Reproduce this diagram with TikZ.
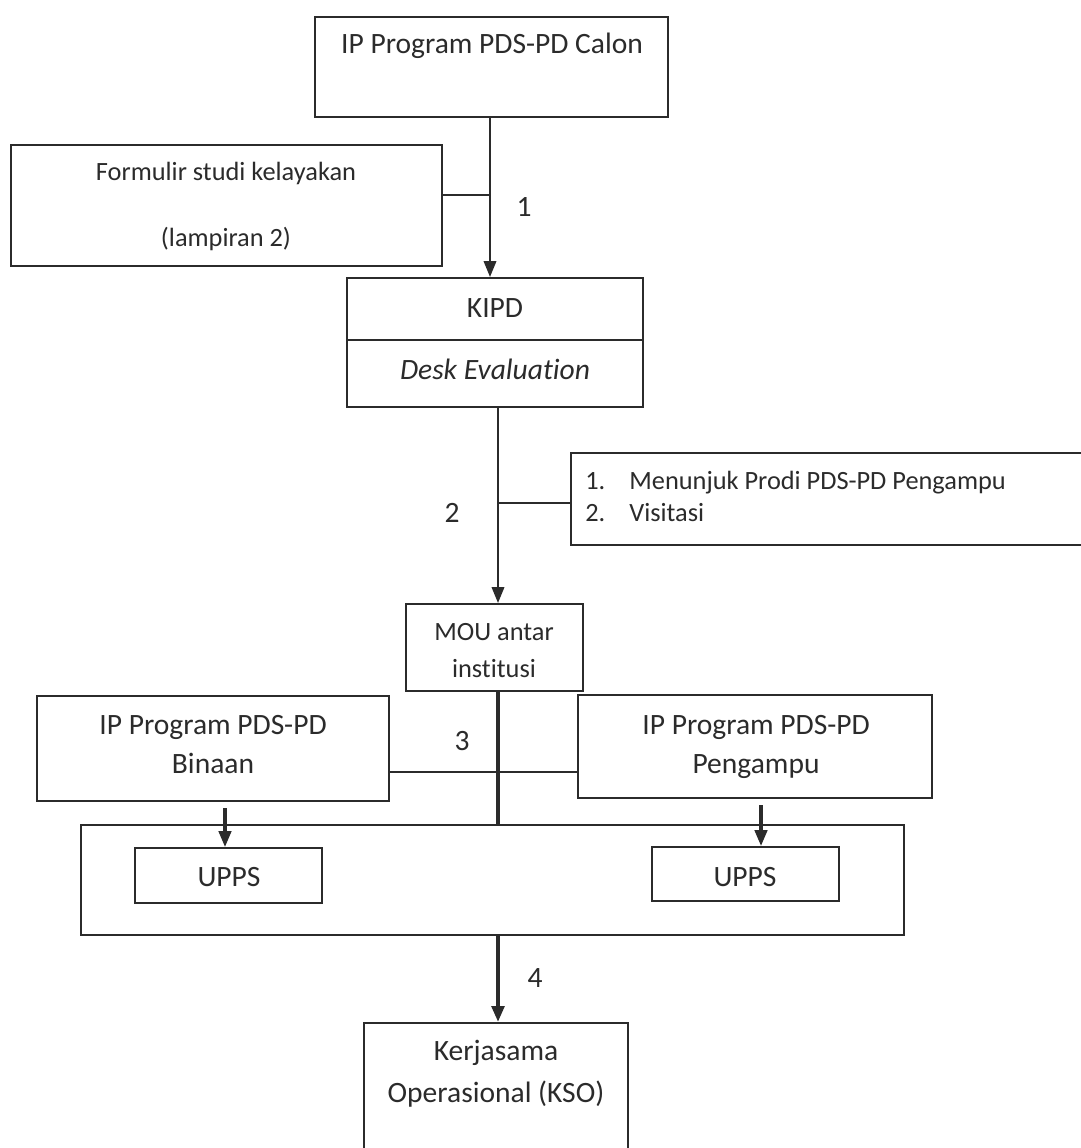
\documentclass[tikz,border=0pt]{standalone}
\usepackage{fontspec}
\setmainfont{Carlito}[Ligatures=NoCommon]
\usetikzlibrary{fit,arrows.meta}
\definecolor{ink}{HTML}{2B2B2B}
\begin{document}
\begin{tikzpicture}[x=0.02cm,y=-0.02cm,
  box/.style={draw=ink, line width=1.1pt, inner sep=0pt},
  txt/.style={text=ink, inner sep=0pt, anchor=base, font=\fontsize{16.8}{20}\selectfont},
  stxt/.style={text=ink, inner sep=0pt, anchor=base, font=\fontsize{15}{18}\selectfont},
  conn/.style={draw=ink, line width=1.3pt},
  thickconn/.style={draw=ink, line width=2.4pt},
  tip/.style={-{Triangle[length=9pt,width=7pt]}},
]
\useasboundingbox[fill=white] (0,0) rectangle (1080,1148);

% boxes
\node[box, fit={(315,17) (668,117)}] (calon) {};
\node[box, fit={(11,145) (442,266)}] (form) {};
\node[box, fit={(347,278) (643,407)}] (kipd) {};
\coordinate (dv) at (0,340);
\draw[box] (kipd.west |- dv) -- (kipd.east |- dv);
\node[box, fit={(571,453) (1092,545)}] (list) {};
\node[box, fit={(406,604) (583,691)}] (mou) {};
\node[box, fit={(37,696) (389,801)}] (binaan) {};
\node[box, fit={(578,695) (932,798)}] (pengampu) {};
\node[box, fit={(81,825) (904,935)}] (wadah) {};
\node[box, fit={(135,848) (322,903)}] (upps1) {};
\node[box, fit={(652,847) (839,901)}] (upps2) {};
\node[box, fit={(364,1023) (628,1175)}] (kso) {};

% texts
\node[txt] (calon-t) at (492,54) {IP Program PDS-PD Calon};
\node[stxt] (form-t1) at (226,181) {Formulir studi kelayakan};
\node[stxt] (form-t2) at (226,247) {(lampiran 2)};
\node[txt] (kipd-t) at (495,318) {KIPD};
\node[txt] (desk-t) at (495,379) {\itshape Desk Evaluation};
\node[stxt, anchor=base west] (l1n) at (585,489) {1.};
\node[stxt, anchor=base west] (l1t) at (629,489) {Menunjuk Prodi PDS-PD Pengampu};
\node[stxt, anchor=base west] (l2n) at (585,521) {2.};
\node[stxt, anchor=base west] (l2t) at (629,521) {Visitasi};
\node[stxt] (mou-t1) at (494,640) {MOU antar};
\node[stxt] (mou-t2) at (494,677) {institusi};
\node[txt] (bin-t1) at (213,734) {IP Program PDS-PD};
\node[txt] (bin-t2) at (213,773) {Binaan};
\node[txt] (pen-t1) at (756,734) {IP Program PDS-PD};
\node[txt] (pen-t2) at (756,773) {Pengampu};
\node[txt] (upps1-t) at (229,886) {UPPS};
\node[txt] (upps2-t) at (745,886) {UPPS};
\node[txt] (kso-t1) at (496,1060) {Kerjasama};
\node[txt] (kso-t2) at (496,1102) {Operasional (KSO)};
\node[txt] (n1) at (524,217) {1};
\node[txt] (n2) at (452,522) {2};
\node[txt] (n3) at (462,750) {3};
\node[txt] (n4) at (535,987) {4};

% connectors
\coordinate (c1) at (490,0);
\draw[conn, tip] (calon.south -| c1) -- (kipd.north -| c1);
\coordinate (j1) at (490,195);
\draw[conn] (form.east |- j1) -- (j1);
\coordinate (c2) at (498,0);
\draw[conn, tip] (kipd.south -| c2) -- (mou.north -| c2);
\coordinate (j2) at (498,503);
\draw[conn] (j2) -- (list.west |- j2);
\draw[thickconn] (mou.south -| c2) -- (wadah.north -| c2);
\coordinate (j3) at (498,772);
\draw[conn] (binaan.east |- j3) -- (pengampu.west |- j3);
\coordinate (a1) at (225,0);
\draw[conn, line width=1.8pt, tip, shorten <=3.5pt] (binaan.south -| a1) -- (upps1.north -| a1);
\coordinate (a2) at (761,0);
\draw[conn, line width=1.8pt, tip, shorten <=3.5pt] (pengampu.south -| a2) -- (upps2.north -| a2);
\draw[thickconn, tip] (wadah.south -| c2) -- (kso.north -| c2);
\end{tikzpicture}
\end{document}
